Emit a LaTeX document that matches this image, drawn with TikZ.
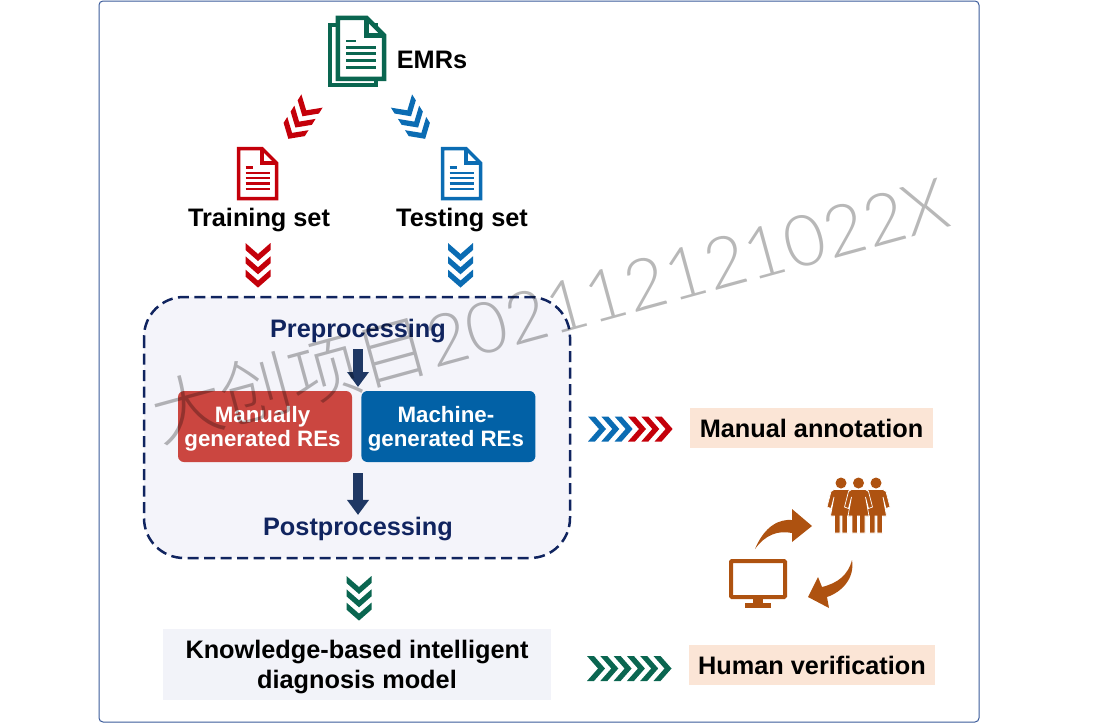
\documentclass[tikz,border=0pt]{standalone}
\usepackage{fontspec}
\setmainfont{Liberation Sans}
\newfontfamily\cjkfont{Noto Sans CJK SC Light}
\newfontfamily\stampfont{Lato Light}
\usetikzlibrary{arrows.meta,positioning,calc}

\definecolor{emrgreen}{HTML}{0A6650}
\definecolor{setred}{HTML}{C4000A}
\definecolor{setblue}{HTML}{0B6CB3}
\definecolor{navy}{HTML}{10245F}
\definecolor{arrownavy}{HTML}{1F3864}
\definecolor{rust}{HTML}{AE5210}
\definecolor{peach}{HTML}{FBE5D6}
\definecolor{panel}{HTML}{F4F4FA}
\definecolor{modelbg}{HTML}{F2F3F9}
\definecolor{redbox}{HTML}{CB4640}
\definecolor{bluebox}{HTML}{0261A6}
\definecolor{framecol}{HTML}{3A5A9A}

\newcommand{\retext}[2]{\rule{0pt}{20pt}\hspace*{-5pt}#1\\\hspace*{-5pt}#2}

\tikzset{
pics/doc/.style={code={
  \draw[fill=white] (1.5,1.5) -- (25,1.5) -- (39.5,16) -- (39.5,51.5) -- (1.5,51.5) -- cycle;
  \draw (25,1.5) -- (25,16) -- (39.5,16);
  \draw[line width=.8\pgflinewidth] (8.5,20.5) -- (16,20.5);
  \foreach \y in {26,31,36.5,42} {\draw[line width=.8\pgflinewidth] (8.5,\y) -- (33,\y);}
}},
pics/chevrons/.style={code={
  \foreach \k in {1,...,#1} {
    \fill[shift={({(\k-1)*13.3},0)}] (0,-12.5) -- (7,-12.5) -- (18,0) -- (7,12.5) -- (0,12.5) -- (11,0) -- cycle;
  }
}},
pics/person/.style={code={
  \fill (0,0) circle (5.5);
  \filldraw[draw=white, line width=.7] (-7,6.5) -- (7,6.5) -- (10,8.5) -- (14,24) -- (10,25.5) -- (7,14) -- (10.5,33) -- (6.5,33) -- (6.5,50) -- (1,50) -- (1,33) -- (-1,33) -- (-1,50) -- (-6.5,50) -- (-6.5,33) -- (-10.5,33) -- (-7,14) -- (-10,25.5) -- (-14,24) -- (-10,8.5) -- cycle;
}}
}

\begin{document}
\begin{tikzpicture}[
x=1pt, y=-1pt,
label-node/.style = {inner sep=0pt, align=center, font=\fontsize{25.3}{30}\selectfont\bfseries},
title-node/.style = {label-node, text=navy},
re-node/.style = {rounded corners=6pt, minimum width=174pt, minimum height=71pt, inner sep=0pt, align=center, text=white, font=\fontsize{22.3}{24}\selectfont\bfseries},
tag-node/.style = {label-node, fill=peach, minimum height=40pt},
block-arrow/.style = {arrownavy, line width=10pt, -{Triangle[width=21pt,length=15pt]}}
]

\useasboundingbox (0,0) rectangle (1098,723);
\draw[framecol, line width=1pt, rounded corners=4pt] (99,1) rectangle (979,722);

% documents
\draw[emrgreen, line width=4.5pt, fill=white] (330,25) rectangle (376,85);
\pic[emrgreen, scale=1.22, line width=4.5pt] at (336,16) {doc};
\pic[setred, line width=3.5pt] at (237,147) {doc};
\pic[setblue, line width=3.5pt] at (441,147) {doc};

\node [label-node] (emrs) at (432,60) {EMRs};
\node [label-node] (train) at (259,220) {Training set};
\node [label-node] (test) at (462,220) {Testing set};

% pipeline box
\draw[navy, line width=2.5pt, fill=panel, dash pattern=on 11pt off 5.5pt, rounded corners=40pt] (144,297) rectangle (570,558);

\node [title-node] (pre) at (358,331) {Preprocessing};
\node [title-node] (post) at (358,529) {Postprocessing};
\node [re-node, fill=redbox] (manual) at (265,426.5) {\retext{Manually}{generated REs}};
\node [re-node, fill=bluebox, right=9pt of manual] (machine) {\retext{Machine-}{generated REs}};

\coordinate (join-top) at (358,391);
\coordinate (join-bot) at (358,462);

% arrows
\draw[block-arrow, shorten <=6pt, shorten >=4pt] (pre.south) -- (join-top);
\draw[block-arrow, shorten <=11pt, shorten >=2pt] (join-bot) -- (post.north);

% chevrons
\pic[setred, rotate=-122] at (312,101) {chevrons=3};
\pic[setblue, rotate=-58] at (401.5,101) {chevrons=3};
\pic[setred, rotate=-90] at (258,243) {chevrons=3};
\pic[setblue, rotate=-90] at (460.5,243) {chevrons=3};
\pic[emrgreen, rotate=-90] at (359,576) {chevrons=3};
\pic[setblue] at (588,429) {chevrons=3};
\pic[setred] at (628,429) {chevrons=3};
\pic[emrgreen] at (587,668.5) {chevrons=6};

% right column
\node [tag-node, minimum width=243pt] (annot) at (811.5,428) {\rule{0pt}{20pt}Manual annotation};
\node [tag-node, minimum width=246pt] (verify) at (812,665) {\rule{0pt}{20pt}Human verification};
\node [label-node, fill=modelbg, minimum width=388pt, minimum height=71pt] (model) at (357,664.5) {\rule{0pt}{24pt}Knowledge-based intelligent\\diagnosis model};

% people and screen
\pic[rust] at (841,483) {person};
\pic[rust] at (876,483) {person};
\pic[rust] at (858.5,483) {person};
\draw[rust, line width=4pt, rounded corners=1pt] (731,561) rectangle (785,597);
\fill[rust] (753,599) rectangle (763,604);
\fill[rust] (745,603) rectangle (771,608);
\fill[rust] (755,549) .. controls (765,525) and (780,519) .. (792,520) -- (792,509) -- (812,526) -- (792,542) -- (792,533) .. controls (778,530) and (765,535) .. (755,549) -- cycle;
\fill[rust] (852,560) .. controls (848,575) and (838,583) .. (822,587) -- (818,577) -- (808,597) -- (829,608) -- (827,597) .. controls (842,592) and (855,578) .. (852,560) -- cycle;

% watermark
\node [anchor=base west, rotate=15.3, inner sep=0pt, text=black, text opacity=.28, font=\fontsize{71}{71}\selectfont] (stamp) at (160,443) {{\cjkfont 大创项目}{\stampfont 202112121022X}};

\end{tikzpicture}
\end{document}
